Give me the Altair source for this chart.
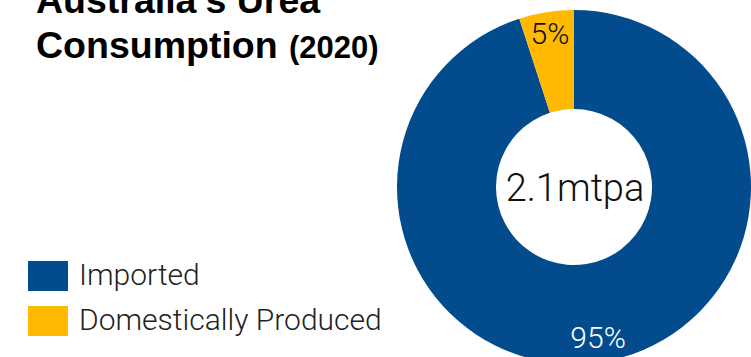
import altair as alt
import pandas as pd

categories = ["Imported", "Domestically Produced"]
shares = [95, 5]
labels = ["95%", "5%"]
label_colors = ["#ffffff", "#111111"]
colors = ["#024B8C", "#FFB900"]
title_lines = ["Australia\u2019s Urea", "Consumption"]
title_year = "(2020)"
center_text = "2.1mtpa"

df = pd.DataFrame({
    "category": categories,
    "share": shares,
    "label": labels,
    "lcolor": label_colors,
    "order": list(range(len(categories))),
})

CX, CY = 574, 187
LIGHT = "Roboto"

color_scale = alt.Scale(domain=categories, range=colors)

base = alt.Chart(df)

arcs = base.mark_arc(outerRadius=177, innerRadius=78).encode(
    theta=alt.Theta("share:Q", stack=True),
    order=alt.Order("order:Q"),
    color=alt.Color(
        "category:N",
        scale=color_scale,
        sort=categories,
        legend=alt.Legend(
            title=None,
            orient="none",
            legendX=28,
            legendY=256,
            symbolType="M-1,-0.75H1V0.75H-1Z",
            symbolSize=1600,
            symbolStrokeWidth=0,
            symbolOpacity=1,
            labelFont=LIGHT,
            labelFontWeight=300,
            labelFontSize=30,
            labelColor="#222222",
            labelOffset=11,
            rowPadding=10,
            labelLimit=400,
        ),
    ),
    x=alt.value(CX),
    y=alt.value(CY),
)

pct = base.mark_text(radius=154, font=LIGHT, fontWeight=300, fontSize=30,
                     baseline="middle", align="center").encode(
    theta=alt.Theta("share:Q", stack=True),
    order=alt.Order("order:Q"),
    text="label:N",
    color=alt.Color("lcolor:N", scale=None),
    x=alt.value(CX),
    y=alt.value(CY),
)

center = alt.Chart(pd.DataFrame({"t": [center_text]})).mark_text(
    font=LIGHT, fontWeight=300, fontSize=38, color="#111111",
    baseline="middle", align="center",
).encode(text="t:N", x=alt.value(CX + 1), y=alt.value(CY + 3))

t1 = alt.Chart(pd.DataFrame({"t": [title_lines[0]]})).mark_text(
    font="Liberation Sans", fontWeight="bold", fontSize=37.5, color="#000000",
    baseline="alphabetic", align="left",
).encode(text="t:N", x=alt.value(36), y=alt.value(13))

t2 = alt.Chart(pd.DataFrame({"t": [title_lines[1]]})).mark_text(
    font="Liberation Sans", fontWeight="bold", fontSize=37.5, color="#000000",
    baseline="alphabetic", align="left",
).encode(text="t:N", x=alt.value(36), y=alt.value(58))

t3 = alt.Chart(pd.DataFrame({"t": [title_year]})).mark_text(
    font="Liberation Sans", fontWeight="bold", fontSize=31, color="#000000",
    baseline="alphabetic", align="left",
).encode(text="t:N", x=alt.value(289), y=alt.value(58))

chart = alt.layer(arcs, pct, center, t1, t2, t3).properties(
    width=751, height=357,
    padding=0,
    autosize=alt.AutoSizeParams(type="none"),
    background="#ffffff",
).configure_view(stroke=None)

chart.save("out.html", embed_options={"renderer": "svg", "actions": False})
